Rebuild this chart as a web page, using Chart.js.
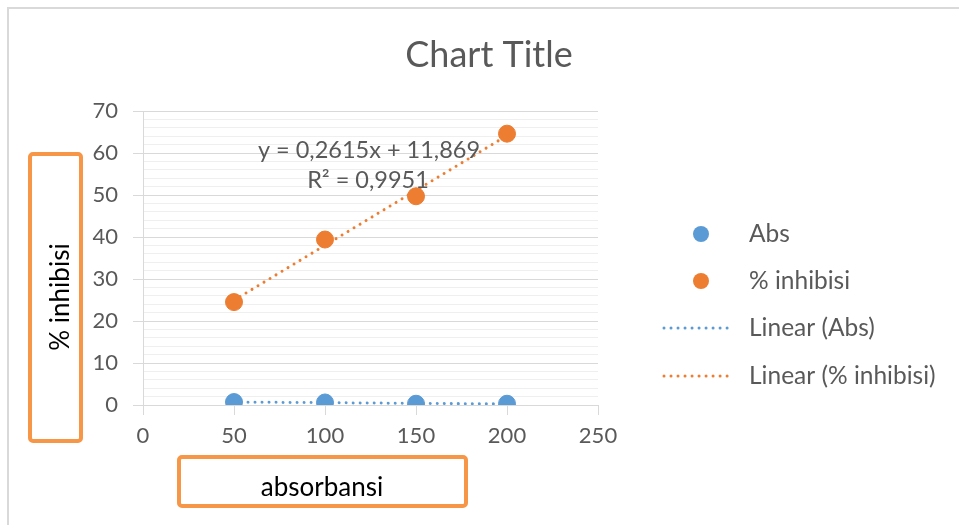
<!DOCTYPE html>
<html>
<head>
<meta charset="utf-8">
<script src="https://cdn.jsdelivr.net/npm/chart.js@4.4.1/dist/chart.umd.min.js"></script>
<style>
  html, body { margin: 0; padding: 0; background: #fff; overflow: hidden; }
  #wrap { position: relative; width: 959px; height: 525px; }
</style>
</head>
<body>
<div id="wrap"><canvas id="c" width="959" height="525"></canvas></div>
<script>
// Sample concentrations and measured values
const concentrations = [50, 100, 150, 200];
const absValues = [0.7, 0.6, 0.3, 0.3];
const inhibitionValues = [24.5, 39.4, 49.7, 64.6];

// Published trendline for % inhibisi: slope, intercept, R²
const inhibitionFit = [0.2615, 11.869];
const inhibitionR2 = [0.9951];

// Axis tick values
const xTicks = [0, 50, 100, 150, 200, 250];
const yTicks = [0, 10, 20, 30, 40, 50, 60, 70];

const seriesNames = ['Abs', '% inhibisi', 'Linear (Abs)', 'Linear (% inhibisi)'];
const chartTitle = 'Chart Title';
const xTitle = 'absorbansi';
const yTitle = '% inhibisi';

const BLUE = '#5B9BD5';
const ORANGE = '#ED7D31';
const BOX = '#F79646';
const TEXT = '#595959';
const FONT = 'Lato, "Open Sans", sans-serif';

// least-squares line for the Abs series
function linearFit(xs, ys) {
  const n = xs.length;
  const mx = xs.reduce((a, b) => a + b, 0) / n;
  const my = ys.reduce((a, b) => a + b, 0) / n;
  let sxy = 0, sxx = 0;
  for (let i = 0; i < n; i++) { sxy += (xs[i] - mx) * (ys[i] - my); sxx += (xs[i] - mx) ** 2; }
  const slope = sxy / sxx;
  return [slope, my - slope * mx];
}
const absFit = linearFit(concentrations, absValues);

const xFirst = concentrations[0];
const xLast = concentrations[concentrations.length - 1];
const trendPoints = (fit) => [xFirst, xLast].map(x => ({ x, y: fit[0] * x + fit[1] }));

const fmt = (v, d) => v.toFixed(d).replace('.', ',');
const equationLines = [
  'y = ' + fmt(inhibitionFit[0], 4) + 'x + ' + fmt(inhibitionFit[1], 3),
  'R² = ' + fmt(inhibitionR2[0], 4)
];

const dotted = {
  type: 'line', pointRadius: 0, borderWidth: 3, borderDash: [0.01, 7],
  borderCapStyle: 'round', fill: false, tension: 0
};

const decor = {
  id: 'decor',
  beforeDraw(chart) {
    const ctx = chart.ctx;
    ctx.save();
    ctx.fillStyle = '#fff';
    ctx.fillRect(0, 0, chart.width, chart.height);
    // outer chart frame
    ctx.fillStyle = '#d9d9d9';
    ctx.fillRect(7, 7, chart.width - 7, 2);
    ctx.fillRect(7, 7, 2, chart.height - 7);
    ctx.restore();
  },
  afterDraw(chart) {
    const ctx = chart.ctx;
    ctx.save();
    // title
    ctx.fillStyle = TEXT;
    ctx.font = '36px ' + FONT;
    ctx.textAlign = 'center';
    ctx.textBaseline = 'middle';
    ctx.fillText(chartTitle, 489, 55);

    // trendline equation
    ctx.font = '23.5px ' + FONT;
    ctx.fillText(equationLines[0], 369, 150);
    ctx.fillText(equationLines[1], 368, 180);

    // axis title boxes
    ctx.strokeStyle = BOX;
    ctx.lineWidth = 4;
    ctx.beginPath();
    ctx.roundRect(30, 154, 51, 287, 3);
    ctx.stroke();
    ctx.beginPath();
    ctx.roundRect(179, 457, 287, 49, 3);
    ctx.stroke();

    ctx.fillStyle = '#000';
    ctx.font = '26px ' + FONT;
    ctx.fillText(xTitle, 322, 488);
    ctx.save();
    ctx.translate(61, 297);
    ctx.rotate(-Math.PI / 2);
    ctx.fillText(yTitle, 0, 0);
    ctx.restore();

    // legend
    const rows = [234, 281, 328, 376];
    const ds = chart.data.datasets;
    ctx.textAlign = 'left';
    ctx.font = '24.5px ' + FONT;
    ds.forEach((d, i) => {
      const y = rows[i];
      if (d.type === 'line') {
        ctx.save();
        ctx.strokeStyle = d.borderColor;
        ctx.lineWidth = 3;
        ctx.lineCap = 'round';
        ctx.setLineDash([0.01, 7]);
        ctx.beginPath();
        ctx.moveTo(664, y);
        ctx.lineTo(733, y);
        ctx.stroke();
        ctx.restore();
      } else {
        ctx.fillStyle = d.backgroundColor;
        ctx.beginPath();
        ctx.arc(701, y, 8, 0, Math.PI * 2);
        ctx.fill();
      }
      ctx.fillStyle = TEXT;
      ctx.fillText(d.label, 749, y);
    });
    ctx.restore();
  }
};

new Chart(document.getElementById('c'), {
  type: 'scatter',
  data: {
    datasets: [
      { label: seriesNames[0], data: concentrations.map((x, i) => ({ x, y: absValues[i] })),
        backgroundColor: BLUE, borderColor: BLUE, pointRadius: 8.5, pointHoverRadius: 8.5 },
      { label: seriesNames[1], data: concentrations.map((x, i) => ({ x, y: inhibitionValues[i] })),
        backgroundColor: ORANGE, borderColor: ORANGE, pointRadius: 8.5, pointHoverRadius: 8.5 },
      Object.assign({ label: seriesNames[2], data: trendPoints(absFit), borderColor: BLUE }, dotted),
      Object.assign({ label: seriesNames[3], data: trendPoints(inhibitionFit), borderColor: ORANGE }, dotted)
    ]
  },
  options: {
    responsive: false,
    animation: false,
    events: [],
    layout: { padding: { left: 0, top: 111, right: 361, bottom: 0 } },
    plugins: { legend: { display: false }, tooltip: { enabled: false }, title: { display: false } },
    scales: {
      x: {
        type: 'linear', min: xTicks[0], max: xTicks[xTicks.length - 1],
        afterFit(s) { s.height = 120; },
        afterBuildTicks(s) { s.ticks = xTicks.map(v => ({ value: v })); },
        ticks: { color: TEXT, font: { family: FONT, size: 22 }, padding: 8, maxRotation: 0 },
        grid: { drawOnChartArea: false, drawTicks: true, tickLength: 10, color: '#d9d9d9' },
        border: { display: true, color: '#d9d9d9', width: 1 }
      },
      y: {
        min: yTicks[0], max: yTicks[yTicks.length - 1],
        afterFit(s) { s.width = 143; },
        ticks: {
          stepSize: 2, autoSkip: false, color: TEXT, font: { family: FONT, size: 22 }, padding: 15,
          callback: v => (yTicks.includes(v) ? String(v) : '')
        },
        grid: {
          tickLength: 10,
          color: c => (c.tick && yTicks.includes(c.tick.value) ? '#d9d9d9' : '#efefef'),
          tickColor: c => (c.tick && yTicks.includes(c.tick.value) ? '#d9d9d9' : 'rgba(0,0,0,0)')
        },
        border: { display: true, color: '#d9d9d9', width: 1 }
      }
    }
  },
  plugins: [decor]
});
</script>
</body>
</html>
